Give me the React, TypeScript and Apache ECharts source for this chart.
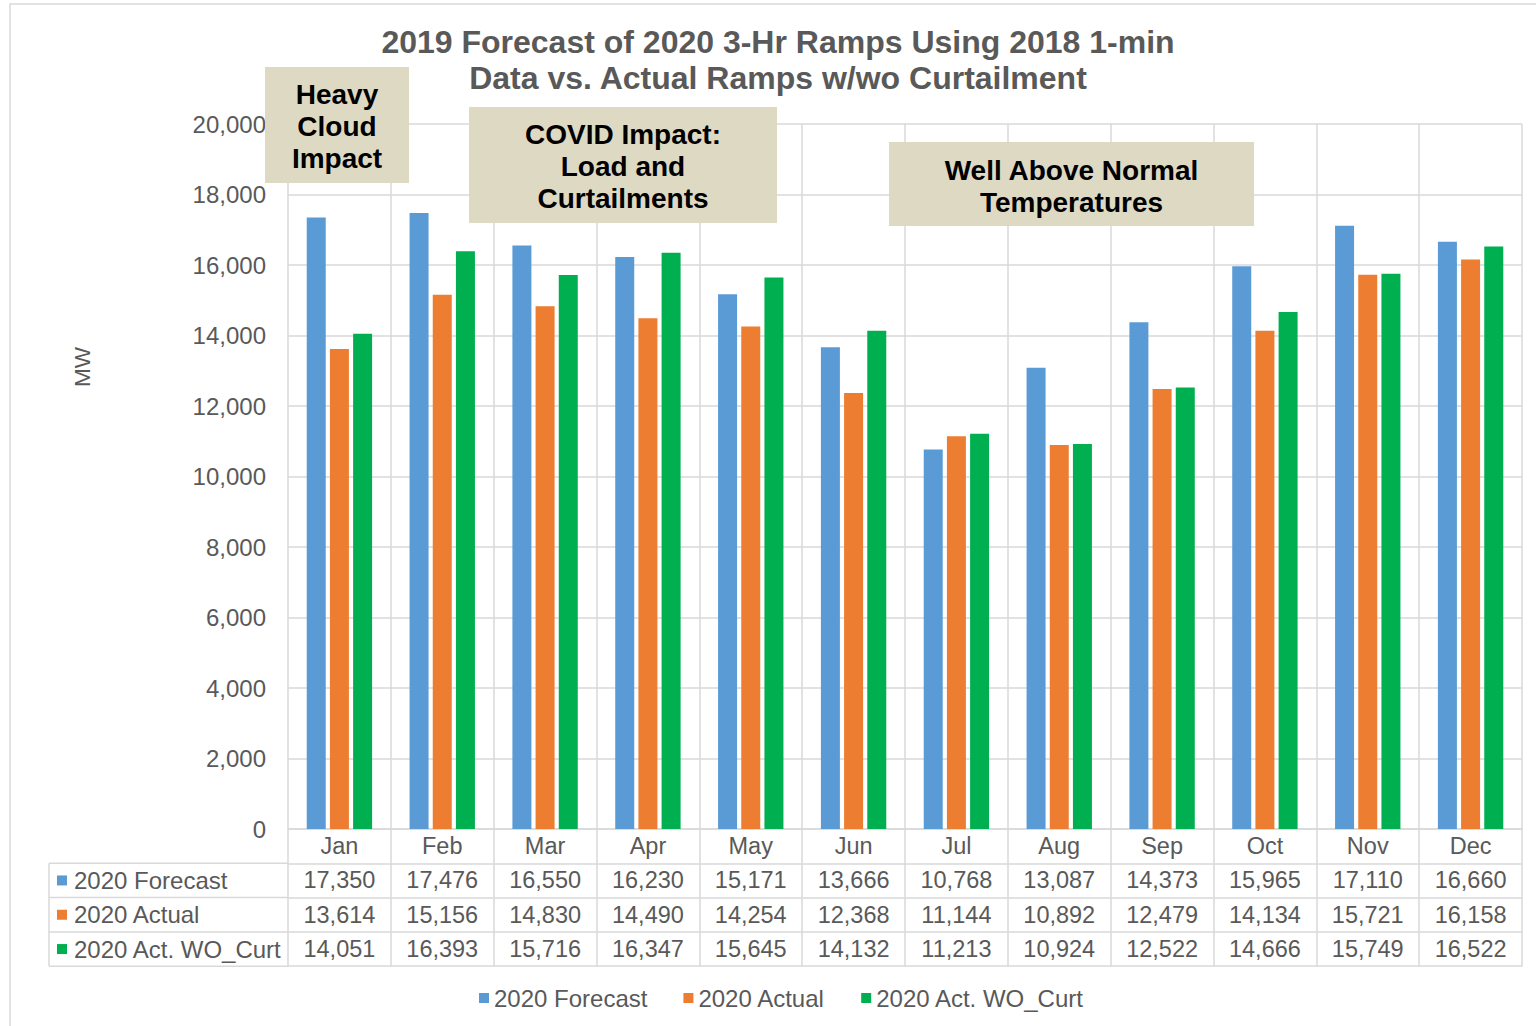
import React, { useEffect, useRef } from "react";
import * as echarts from "echarts";

const months = ["Jan", "Feb", "Mar", "Apr", "May", "Jun", "Jul", "Aug", "Sep", "Oct", "Nov", "Dec"];
const forecast = [17350, 17476, 16550, 16230, 15171, 13666, 10768, 13087, 14373, 15965, 17110, 16660];
const actual = [13614, 15156, 14830, 14490, 14254, 12368, 11144, 10892, 12479, 14134, 15721, 16158];
const actWoCurt = [14051, 16393, 15716, 16347, 15645, 14132, 11213, 10924, 12522, 14666, 15749, 16522];
const seriesNames = ["2020 Forecast", "2020 Actual", "2020 Act. WO_Curt"];
const seriesValues = [forecast, actual, actWoCurt];
const colors = ["#5B9BD5", "#ED7D31", "#00B050"];
const yMin = 0;
const yMax = 20000;
const yInterval = 2000;
const titleLines = ["2019 Forecast of 2020 3-Hr Ramps Using 2018 1-min", "Data vs. Actual Ramps w/wo Curtailment"];
const axisName = "MW";
const noteHeavy = ["Heavy", "Cloud", "Impact"];
const noteCovid = ["COVID Impact:", "Load and", "Curtailments"];
const noteHeat = ["Well Above Normal", "Temperatures"];

const FONT = "'Liberation Sans', Arial, Helvetica, sans-serif";
const TEXT = "#595959";
const LINE = "#D9D9D9";
const BOX = "#DDD9C3";

const W = 1536;
const H = 1026;
const gridLeft = 288;
const gridRight = 1522;
const gridTop = 124;
const gridBottom = 829;
const rowH = 34.3;

const fmt = (v: number) => v.toLocaleString("en-US");

function tableAxis(data: string[], offset: number, showLabel: boolean, showTick: boolean) {
  return {
    type: "category",
    data,
    position: "bottom",
    offset,
    gridIndex: 0,
    axisLine: { show: true, lineStyle: { color: LINE, width: 1.5 } },
    axisTick: { show: showTick, length: rowH, interval: 0, lineStyle: { color: LINE, width: 1.5 } },
    axisLabel: { show: showLabel, interval: 0, margin: 5, fontSize: 23.5, color: TEXT, fontFamily: FONT },
    splitLine: { show: false },
  };
}

function noteBox(x: number, y: number, w: number, h: number, lines: string[], firstY: number) {
  return {
    type: "group",
    z: 100,
    children: [
      { type: "rect", z: 100, shape: { x, y, width: w, height: h }, style: { fill: BOX } },
      ...lines.map((t, i) => ({
        type: "text",
        z: 101,
        style: {
          text: t,
          x: x + w / 2,
          y: firstY + i * 32,
          align: "center",
          verticalAlign: "middle",
          font: `bold 28px ${FONT}`,
          fill: "#000000",
        },
      })),
    ],
  };
}

export default function App() {
  const ref = useRef<HTMLDivElement>(null);

  useEffect(() => {
    if (!ref.current) return;
    const chart = echarts.init(ref.current, undefined, { renderer: "svg" });

    const rowsY = [gridBottom + rowH, gridBottom + 2 * rowH, gridBottom + 3 * rowH, gridBottom + 4 * rowH];

    const graphic: any[] = [
      {
        type: "rect",
        shape: { x: 10, y: 4, width: 1600, height: 1100 },
        style: { fill: "none", stroke: LINE, lineWidth: 1.5 },
        silent: true,
      },
      ...titleLines.map((t, i) => ({
        type: "text",
        style: {
          text: t,
          x: 778,
          y: 42 + i * 36,
          align: "center",
          verticalAlign: "middle",
          font: `bold 32px ${FONT}`,
          fill: TEXT,
        },
      })),
      {
        type: "text",
        x: 82,
        y: 367,
        rotation: Math.PI / 2,
        style: {
          text: axisName,
          x: 0,
          y: 0,
          align: "center",
          verticalAlign: "middle",
          font: `22.5px ${FONT}`,
          fill: TEXT,
        },
      },
      {
        type: "line",
        shape: { x1: 49, y1: rowsY[0], x2: 49, y2: rowsY[3] },
        style: { stroke: LINE, lineWidth: 1.5 },
      },
      ...rowsY.map((y) => ({
        type: "line",
        shape: { x1: 49, y1: y, x2: gridLeft, y2: y },
        style: { stroke: LINE, lineWidth: 1.5 },
      })),
      ...seriesNames.map((n, i) => ({
        type: "group",
        children: [
          {
            type: "rect",
            shape: { x: 57, y: rowsY[i] + rowH / 2 - 5, width: 10, height: 10 },
            style: { fill: colors[i] },
          },
          {
            type: "text",
            style: {
              text: n,
              x: 74,
              y: rowsY[i] + rowH / 2,
              align: "left",
              verticalAlign: "middle",
              font: `24px ${FONT}`,
              fill: TEXT,
            },
          },
        ],
      })),
      noteBox(265, 67, 144, 116, noteHeavy, 94),
      noteBox(469, 107, 308, 116, noteCovid, 134),
      noteBox(889, 142, 365, 84, noteHeat, 170),
    ];

    chart.setOption({
      animation: false,
      backgroundColor: "#FFFFFF",
      grid: {
        left: gridLeft,
        right: W - gridRight,
        top: gridTop,
        bottom: H - gridBottom,
        containLabel: false,
      },
      legend: {
        data: seriesNames,
        left: 474,
        top: 981,
        icon: "rect",
        itemWidth: 10,
        itemHeight: 10,
        itemGap: 36,
        textStyle: { fontSize: 24, color: TEXT, fontFamily: FONT },
        selectedMode: false,
      },
      xAxis: [
        {
          type: "category",
          data: months,
          position: "bottom",
          axisLine: { show: true, lineStyle: { color: LINE, width: 1.5 } },
          axisTick: { show: true, length: rowH, interval: 0, lineStyle: { color: LINE, width: 1.5 } },
          axisLabel: { interval: 0, margin: 5, fontSize: 23.5, color: TEXT, fontFamily: FONT },
          splitLine: { show: true, interval: 0, lineStyle: { color: LINE, width: 1.5 } },
        },
        tableAxis(forecast.map(fmt), rowH, true, true),
        tableAxis(actual.map(fmt), 2 * rowH, true, true),
        tableAxis(actWoCurt.map(fmt), 3 * rowH, true, true),
        tableAxis(months.map(() => ""), 4 * rowH, false, false),
      ],
      yAxis: {
        type: "value",
        min: yMin,
        max: yMax,
        interval: yInterval,
        axisLine: { show: false },
        axisTick: { show: false },
        axisLabel: {
          margin: 22,
          fontSize: 24,
          color: TEXT,
          fontFamily: FONT,
          formatter: (v: number) => fmt(v),
        },
        splitLine: { show: true, lineStyle: { color: LINE, width: 1.5 } },
      },
      series: seriesNames.map((n, i) => ({
        name: n,
        type: "bar",
        xAxisIndex: 0,
        data: seriesValues[i],
        barWidth: 19,
        barGap: "22%",
        itemStyle: { color: colors[i] },
      })),
      graphic,
    });

    return () => chart.dispose();
  }, []);

  return (
    <div
      ref={ref}
      style={{ position: "fixed", left: 0, top: 0, width: W, height: H, background: "#fff" }}
    />
  );
}
